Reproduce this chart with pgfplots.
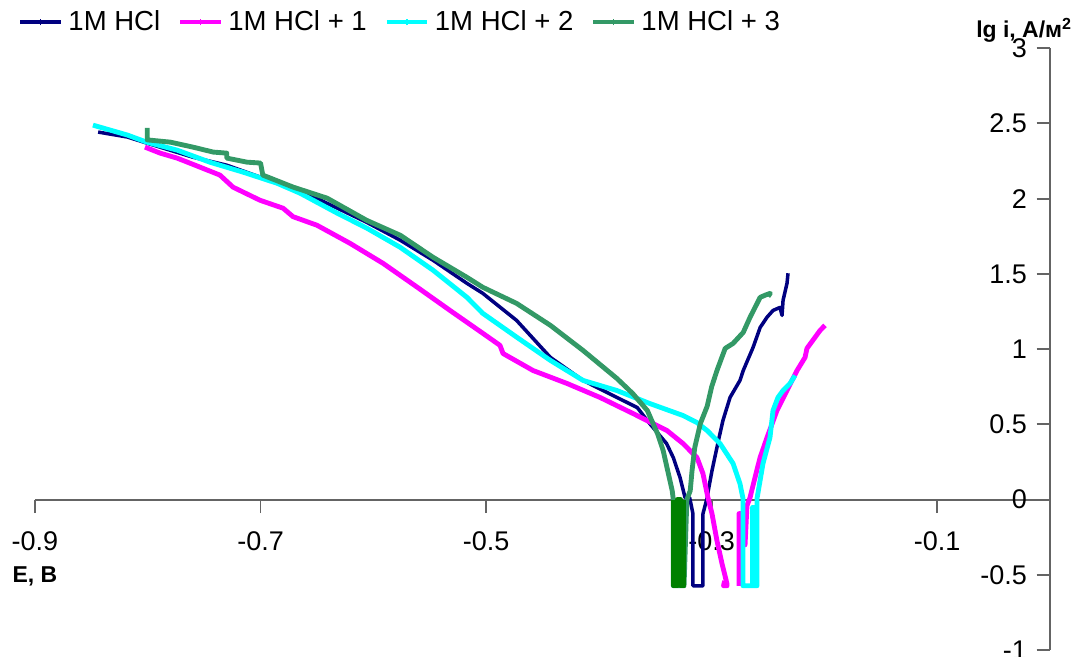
\documentclass[border=0pt]{standalone}
\usepackage{pgfplots}
\pgfplotsset{compat=1.18}
\usepackage{fontspec}
\setmainfont{Liberation Sans}
\definecolor{cnavy}{RGB}{0,0,128}
\definecolor{cmag}{RGB}{255,0,255}
\definecolor{ccyan}{RGB}{0,255,255}
\definecolor{csea}{RGB}{51,153,102}
\definecolor{cgreen}{RGB}{0,128,0}
\definecolor{caxis}{RGB}{100,100,100}
\begin{document}
\begin{tikzpicture}
\begin{axis}[
  name=ax,
  scale only axis, width=375.9pt, height=223pt,
  xmin=-0.9, xmax=0, ymin=-1, ymax=3,
  clip=false,
  axis x line=middle, axis y line=middle,
  axis line style={-, caxis, line width=0.7pt},
  every tick/.style={caxis, line width=0.7pt},
  major tick length=5pt,
  tick align=outside,
  hide obscured x ticks=false, hide obscured y ticks=false,
  xtick={-0.9,-0.7,-0.5,-0.3,-0.1},
  xticklabels={-0.9,-0.7,-0.5,-0.3,-0.1},
  ytick={-1,-0.5,0,0.5,1,1.5,2,2.5,3},
  yticklabels={-1,-0.5,0,0.5,1,1.5,2,2.5,3},
  tick label style={font=\fontsize{10}{12}\selectfont},
  xticklabel style={anchor=north, yshift=-3.2pt},
  yticklabel style={anchor=east, xshift=0pt},
  legend style={at={(rel axis cs:0,1)}, anchor=west, xshift=-6.4pt, yshift=9.6pt,
    draw=none, fill=none, inner sep=0pt, legend columns=-1,
    font=\fontsize{10.2}{12}\selectfont,
    /tikz/every even column/.append style={column sep=4.6pt}},
  legend image code/.code={\draw[#1, line width=1.6pt] (0pt,0pt) -- (15pt,0pt);
    \draw[#1, line width=0.6pt] (7.5pt,-1.2pt) -- (7.5pt,1.2pt);},
  every axis plot/.append style={line join=round},
]
% 1M HCl
\addplot[cnavy, line width=1.3pt] coordinates {
(-0.844,2.442) (-0.818,2.409) (-0.801,2.369) (-0.760,2.275) (-0.730,2.222)
(-0.700,2.142) (-0.671,2.076) (-0.641,1.969) (-0.606,1.843) (-0.576,1.723)
(-0.547,1.590) (-0.517,1.437) (-0.503,1.371) (-0.473,1.191) (-0.443,0.945)
(-0.414,0.792) (-0.384,0.679) (-0.366,0.612) (-0.355,0.506) (-0.340,0.373)
(-0.334,0.279) (-0.328,0.146) (-0.3236,0.013) (-0.3195,0.013) (-0.3166,-0.093)
(-0.3166,-0.572) (-0.3077,-0.572) (-0.3077,-0.093) (-0.304,0.013) (-0.303,0.06)
(-0.2997,0.193) (-0.294,0.393) (-0.290,0.526) (-0.2837,0.679) (-0.2749,0.792)
(-0.272,0.858) (-0.2633,1.011) (-0.257,1.144) (-0.251,1.211) (-0.2456,1.257)
(-0.2394,1.277) (-0.2376,1.224) (-0.2367,1.324) (-0.2332,1.437) (-0.2323,1.504)
};
\addlegendentry{1M HCl}
% 1M HCl + 1
\addplot[cmag, line width=1.8pt, unbounded coords=jump] coordinates {
(-0.8025,2.342) (-0.789,2.302) (-0.774,2.269) (-0.7537,2.209) (-0.736,2.156)
(-0.7244,2.076) (-0.7005,1.989) (-0.680,1.936) (-0.6712,1.88) (-0.650,1.823)
(-0.6207,1.703) (-0.5914,1.570) (-0.561,1.411) (-0.532,1.257) (-0.5027,1.104)
(-0.4877,1.025) (-0.485,0.971) (-0.4584,0.858) (-0.4283,0.772) (-0.399,0.679)
(-0.3697,0.572) (-0.3396,0.459) (-0.3254,0.373) (-0.313,0.279) (-0.3077,0.173)
(-0.3033,0.013) (-0.2997,-0.093) (-0.2953,-0.273) (-0.2908,-0.426) (-0.2864,-0.559)
(-0.2864,-0.572) (-0.2895,-0.572) (-0.2885,-0.54)
(-0.28,nan)
(-0.2758,-0.572) (-0.2758,-0.093) (-0.2704,-0.093) (-0.2704,-0.30) (-0.2687,-0.04)
(-0.266,0.013) (-0.2616,0.146) (-0.2571,0.279) (-0.2509,0.413) (-0.2421,0.592)
(-0.2332,0.725) (-0.2243,0.858) (-0.2172,0.945) (-0.2155,1.005) (-0.2039,1.124)
(-0.1995,1.158)
};
\addlegendentry{1M HCl + 1}
% 1M HCl + 2
\addplot[ccyan, line width=1.8pt] coordinates {
(-0.8486,2.488) (-0.818,2.422) (-0.801,2.375) (-0.774,2.322) (-0.745,2.242)
(-0.7156,2.176) (-0.6854,2.102) (-0.665,2.036) (-0.632,1.903) (-0.6056,1.803)
(-0.5763,1.677) (-0.547,1.524) (-0.517,1.344) (-0.503,1.238) (-0.4726,1.078)
(-0.443,0.925) (-0.414,0.792) (-0.384,0.725) (-0.355,0.639) (-0.3254,0.559)
(-0.313,0.512) (-0.304,0.459) (-0.2926,0.373) (-0.281,0.240) (-0.2749,0.106)
(-0.2722,0.007) (-0.2722,-0.572) (-0.2598,-0.572) (-0.2598,0.007) (-0.2545,0.240)
(-0.2483,0.413) (-0.2456,0.592) (-0.2412,0.679) (-0.2367,0.725) (-0.2305,0.772)
(-0.2261,0.825)
};
\addlegendentry{1M HCl + 2}
\addplot[ccyan, line width=1.8pt, forget plot] coordinates {
(-0.2635,-0.572) (-0.2635,-0.05) (-0.2615,-0.05) (-0.2615,-0.572)
};
% 1M HCl + 3
\addplot[csea, line width=1.8pt] coordinates {
(-0.8005,2.47) (-0.8005,2.39) (-0.780,2.375) (-0.760,2.342) (-0.742,2.309)
(-0.730,2.302) (-0.730,2.269) (-0.712,2.242) (-0.700,2.236) (-0.698,2.156)
(-0.671,2.076) (-0.641,2.003) (-0.606,1.856) (-0.576,1.756) (-0.547,1.610)
(-0.517,1.477) (-0.503,1.411) (-0.473,1.304) (-0.443,1.158) (-0.414,0.991)
(-0.384,0.805) (-0.370,0.705) (-0.357,0.592) (-0.352,0.506) (-0.348,0.439)
(-0.343,0.326) (-0.339,0.193) (-0.335,0.06) (-0.334,0) (-0.334,-0.572)
(-0.3245,-0.572) (-0.322,0) (-0.319,0.06) (-0.3174,0.193) (-0.315,0.346)
(-0.310,0.506) (-0.304,0.62) (-0.300,0.75) (-0.2953,0.858) (-0.288,1.005)
(-0.281,1.038) (-0.272,1.111) (-0.266,1.211) (-0.257,1.344) (-0.252,1.36)
(-0.248,1.371) (-0.250,1.35)
};
\addlegendentry{1M HCl + 3}
\addplot[cgreen, line width=1.8pt, forget plot] coordinates {
(-0.3335,0.0) (-0.3335,-0.572) (-0.3305,-0.572) (-0.3305,0.0) (-0.3275,0.0)
(-0.3275,-0.572) (-0.3245,-0.572) (-0.3245,0.0)
};
\node[anchor=west, inner sep=0pt, font=\bfseries\fontsize{8.5}{10}\selectfont]
  at (axis cs:-0.9,-0.512) [xshift=-8.5pt] {E, В};
\node[anchor=base east, inner sep=0pt, font=\bfseries\fontsize{8.5}{10}\selectfont]
  at (rel axis cs:1,1) [xshift=8.5pt, yshift=4pt] {lg i, А/м\textsuperscript{2}};
\end{axis}
\pgfresetboundingbox
\path[use as bounding box] ([xshift=-12.96pt,yshift=-2.2pt]ax.south west)
  rectangle ([xshift=10pt,yshift=17.8pt]ax.north east);
\end{tikzpicture}
\end{document}
